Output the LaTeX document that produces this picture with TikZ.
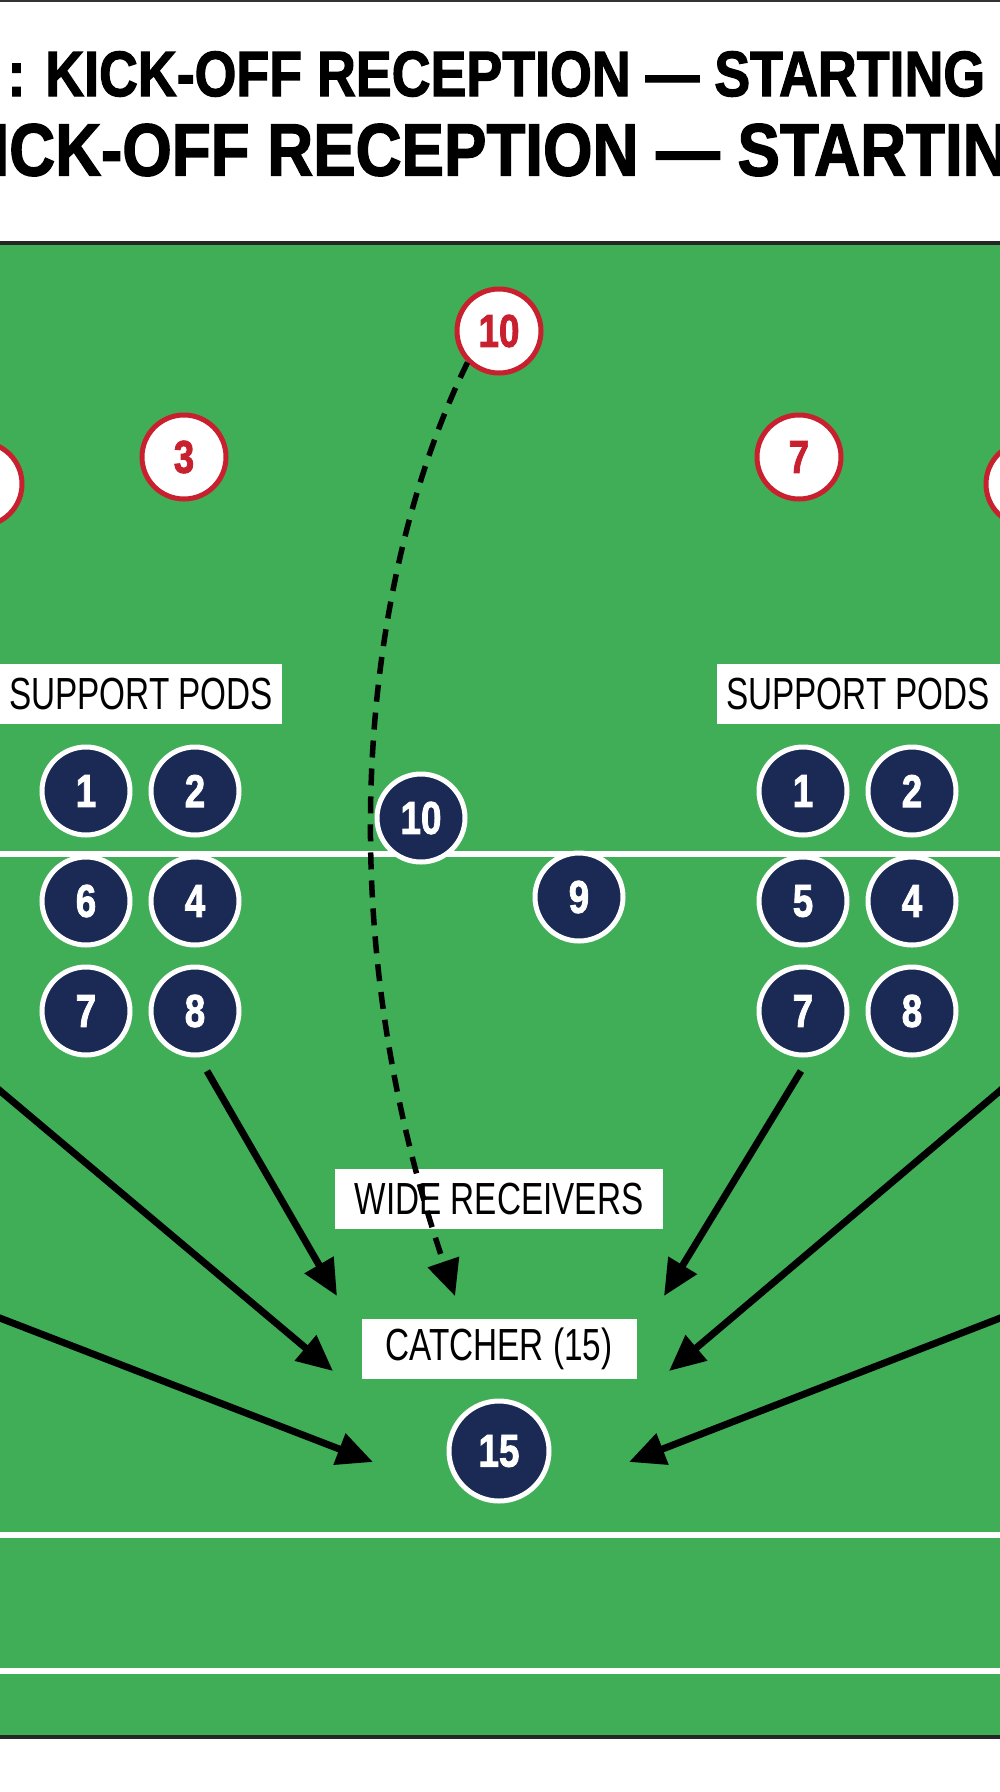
\documentclass[tikz,border=0pt]{standalone}
\usepackage{fontspec}
\setmainfont{Liberation Sans}
\newfontfamily\heavy{Liberation Sans Bold}[FakeBold=2]
\usetikzlibrary{positioning,arrows.meta}
\definecolor{pitch}{HTML}{40AD57}
\definecolor{navy}{HTML}{1B2A55}
\definecolor{kickred}{HTML}{C8202F}
\tikzset{
    home/.style={circle,fill=navy,draw=white,line width=5pt,minimum size=88pt,inner sep=0pt,
        text=white,font=\fontsize{46}{46}\selectfont\heavy},
    kicker/.style={circle,fill=white,draw=kickred,line width=5pt,minimum size=84pt,inner sep=0pt,
        text=kickred,font=\fontsize{46}{46}\selectfont\heavy},
    tag/.style={fill=white,inner sep=0pt,minimum height=60pt,font=\fontsize{45}{45}\selectfont},
    run/.style={-{Triangle[length=36pt,width=32pt]},line width=7pt},
}
\newcommand{\narrow}[1]{\scalebox{0.8}[1]{#1}}
\newcommand{\slim}[1]{\scalebox{0.74}[1]{#1}}
\begin{document}
\begin{tikzpicture}[x=1pt,y=-1pt]
    \useasboundingbox (0,0) rectangle (1000,1792);
    \clip (0,0) rectangle (1000,1792);
    \fill[white] (0,0) rectangle (1000,1792);
    \draw[line width=3pt,black!80] (0,0) -- (1000,0);
    \node[anchor=west,font=\fontsize{64}{64}\selectfont\heavy] (title1) at (4,74)
        {\scalebox{0.84}[1]{: KICK-OFF RECEPTION — STARTING}};
    \node[anchor=west,font=\fontsize{74}{74}\selectfont\heavy] (title2) at (-12,150)
        {\scalebox{0.86}[1]{ICK-OFF RECEPTION — STARTIN}};
    % field
    \fill[pitch] (0,243) rectangle (1000,1737);
    \draw[line width=4pt,black!85] (0,243) -- (1000,243);
    \draw[line width=4pt,black!85] (0,1737) -- (1000,1737);
    \foreach \y in {854,1535,1671}
        \draw[white,line width=6pt] (0,\y) -- (1000,\y);
    % kicking side
    \node[kicker] (k10) at (499,331) {\narrow{10}};
    \node[kicker] (k3) at (184,457) {\narrow{3}};
    \node[kicker] (k7) at (799,457) {\narrow{7}};
    \node[kicker] (kl) at (-20,484) {};
    \node[kicker] (kr) at (1028,484) {};
    % receiving pods
    \node[tag,minimum width=282pt] (podsL) at (141,694) {\slim{SUPPORT PODS}};
    \node[tag,minimum width=283pt] (podsR) at (858,694) {\slim{SUPPORT PODS}};
    \node[home] (l1) at (86,791) {\narrow{1}};
    \node[home] (l2) [right=16pt of l1] {\narrow{2}};
    \node[home] (l6) [below=17pt of l1] {\narrow{6}};
    \node[home] (l4) [right=16pt of l6] {\narrow{4}};
    \node[home] (l7) [below=17pt of l6] {\narrow{7}};
    \node[home] (l8) [right=16pt of l7] {\narrow{8}};
    \node[home] (r1) at (803,791) {\narrow{1}};
    \node[home] (r2) [right=16pt of r1] {\narrow{2}};
    \node[home] (r5) [below=17pt of r1] {\narrow{5}};
    \node[home] (r4) [right=16pt of r5] {\narrow{4}};
    \node[home] (r7) [below=17pt of r5] {\narrow{7}};
    \node[home] (r8) [right=16pt of r7] {\narrow{8}};
    \node[home] (h10) at (421,818) {\narrow{10}};
    \node[home] (h9) at (579,897) {\narrow{9}};
    \node[home,minimum size=100pt] (h15) at (499,1451) {\narrow{15}};
    \node[tag,minimum width=328pt] (wide) at (499,1199) {\slim{WIDE RECEIVERS}};
    \node[tag,minimum width=275pt] (catch) at (499,1349) {\slim{CATCHER (15)}};
    % free ends of the runs
    \coordinate (wl1) at (-8,1084);
    \coordinate (wl2) at (-8,1315);
    \coordinate (wr1) at (1008,1084);
    \coordinate (wr2) at (1008,1315);
    \coordinate (t1) at (337,1296);
    \coordinate (t2) at (333,1371);
    \coordinate (t3) at (373,1462);
    \coordinate (t4) at (664,1296);
    \coordinate (t5) at (669,1371);
    \coordinate (t6) at (629,1462);
    \coordinate (tk) at (455,1296);
    \draw[run] (l8) ++(12,60) -- (t1);
    \draw[run] (wl1) -- (t2);
    \draw[run] (wl2) -- (t3);
    \draw[run] (r7) ++(-2,60) -- (t4);
    \draw[run] (wr1) -- (t5);
    \draw[run] (wr2) -- (t6);
    \draw[run,dash pattern=on 17pt off 11pt,line width=5.5pt]
        (k10.south west) .. controls (370,560) and (320,900) .. (tk);
\end{tikzpicture}
\end{document}
